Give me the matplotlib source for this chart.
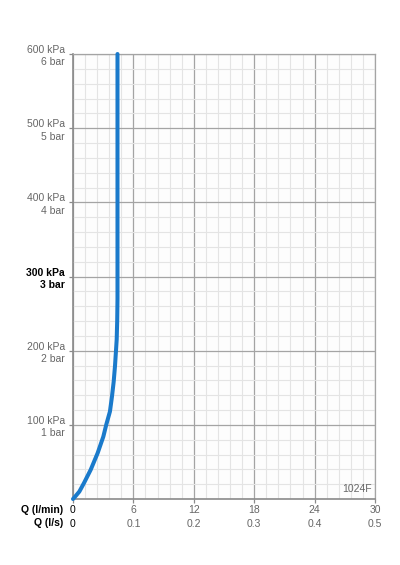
import numpy as np
import matplotlib.pyplot as plt
from matplotlib.ticker import MultipleLocator

plt.rcParams['font.family'] = ['Liberation Sans', 'DejaVu Sans']

# flow curve
flow_lpm = [0.0, 0.2, 0.63, 1.09, 1.76, 2.45, 3.01, 3.3, 3.67, 3.87, 4.04, 4.17, 4.27, 4.34, 4.39, 4.42, 4.42]
pressure_kpa = [0, 3, 10, 21.5, 39.5, 62, 84, 100, 118, 138, 158, 179, 200, 215, 240, 270, 600]

# axis labels
x_lpm = [0, 6, 12, 18, 24, 30]
x_lps = ['0', '0.1', '0.2', '0.3', '0.4', '0.5']
y_kpa = [100, 200, 300, 400, 500, 600]
y_bar = [1, 2, 3, 4, 5, 6]

grey_txt = '#666666'
fs = 7.5

fig = plt.figure(figsize=(4.0, 5.65), dpi=100)
ax = fig.add_axes([73 / 400, 66 / 565, 302 / 400, 445 / 565])

ax.set_xlim(0, 30)
ax.set_ylim(0, 600)

# grid
ax.xaxis.set_major_locator(MultipleLocator(6))
ax.xaxis.set_minor_locator(MultipleLocator(1.2))
ax.yaxis.set_major_locator(MultipleLocator(100))
ax.yaxis.set_minor_locator(MultipleLocator(20))
ax.grid(which='minor', color='#e4e4e4', linewidth=0.8)
ax.grid(which='major', color='#a4a4a4', linewidth=0.9)
ax.set_axisbelow(True)
ax.set_facecolor('#fdfdfd')

for s in ['top', 'right']:
    ax.spines[s].set_color('#a4a4a4')
    ax.spines[s].set_linewidth(0.9)
for s in ['left', 'bottom']:
    ax.spines[s].set_color('#8a8a8a')
    ax.spines[s].set_linewidth(1.2)

ax.plot(flow_lpm, pressure_kpa, color='#1a7acb', linewidth=2.9,
        solid_capstyle='round', solid_joinstyle='round', clip_on=False, zorder=3)

# x tick labels (two rows)
ax.set_xticks(x_lpm)
ax.set_xticklabels([f'{a}\n{b}' for a, b in zip(x_lpm, x_lps)],
                   fontsize=fs, color=grey_txt, linespacing=1.45)
ax.tick_params(axis='x', which='major', length=3, width=0.9, color='#8a8a8a', pad=1.5)
ax.get_xticklabels()[0].set_color('black')

# y tick labels (two rows)
ax.set_yticks(y_kpa)
ax.set_yticklabels([f'{k} kPa\n{b} bar' for k, b in zip(y_kpa, y_bar)],
                   fontsize=fs, color=grey_txt, linespacing=1.3, ha='right')
ax.tick_params(axis='y', which='major', length=3, width=0.9, color='#8a8a8a', pad=3)
ax.tick_params(which='minor', length=0)
for lab in ax.get_yticklabels():
    if lab.get_text().startswith('300'):
        lab.set_color('black')
        lab.set_fontweight('bold')

# row captions for the x axis
fig.text(63 / 400, 1 - 510 / 565, 'Q (l/min)', fontsize=fs, fontweight='bold',
         ha='right', va='center')
fig.text(63 / 400, 1 - 523 / 565, 'Q (l/s)', fontsize=fs, fontweight='bold',
         ha='right', va='center')

ax.text(0.99, 0.012, '1024F', transform=ax.transAxes, fontsize=fs,
        color=grey_txt, ha='right', va='bottom')

fig.savefig('out.png', dpi=100)
